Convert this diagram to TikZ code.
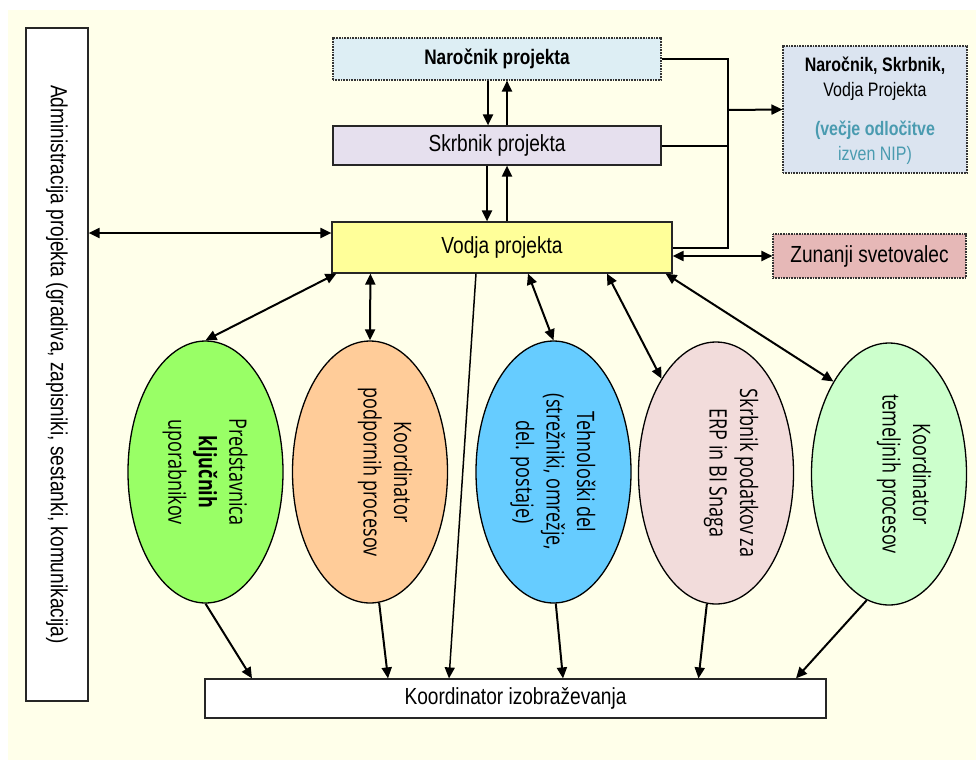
\documentclass[tikz,border=0pt]{standalone}
\usepackage{fontspec}
\setmainfont{Liberation Sans}[FakeStretch=0.82]
\newfontfamily\ovalfont{Open Sans}[FakeStretch=0.75]
\usetikzlibrary{arrows.meta,shapes.geometric,calc}

\definecolor{bgcream}{RGB}{255,255,234}
\definecolor{clientfill}{RGB}{221,238,244}
\definecolor{sponsorfill}{RGB}{230,224,238}
\definecolor{leadfill}{RGB}{255,255,153}
\definecolor{boardfill}{RGB}{219,228,240}
\definecolor{advisorfill}{RGB}{230,184,183}
\definecolor{limegreen}{RGB}{153,255,102}
\definecolor{peach}{RGB}{255,204,153}
\definecolor{skyblue}{RGB}{102,204,255}
\definecolor{rosepale}{RGB}{242,220,219}
\definecolor{mint}{RGB}{204,255,204}
\definecolor{tealtext}{RGB}{74,155,176}

\begin{document}
\begin{tikzpicture}[x=1pt,y=-1pt,
  box/.style={draw=black!85, line width=1.2pt, inner sep=0pt,
    font=\fontsize{23.3}{27}\selectfont},
  dotbox/.style={draw=black!80, dash pattern=on 1pt off 0.6pt, line width=1.1pt,
    inner sep=0pt, font=\fontsize{23.3}{27}\selectfont},
  oval/.style={ellipse, draw=black, line width=1.3pt, minimum width=155pt,
    minimum height=262pt, inner sep=0pt},
  ovaltext/.style={rotate=-90, align=center,
    font=\ovalfont\fontsize{24}{30.5}\selectfont},
  tip/.tip={Triangle[length=11pt,width=10pt]},
  link/.style={line width=2pt, -tip},
  dlink/.style={line width=2pt, tip-tip},
  wire/.style={line width=2pt},
]
% page and backdrop
\fill[white] (0,0) rectangle (976,760);
\fill[bgcream] (8,10) rectangle (976,760);
\useasboundingbox (0,0) rectangle (976,760);

% boxes
\node[dotbox, fill=clientfill, minimum width=328pt, minimum height=42pt,
  font=\bfseries\fontsize{21}{25}\selectfont] (nar) at (497,59) {Naročnik projekta};
\node[box, fill=sponsorfill, minimum width=328pt, minimum height=39pt]
  (skr) at (497,145.5) {Skrbnik projekta};
\node[box, fill=leadfill, minimum width=340pt, minimum height=51pt]
  (vod) at (502,247.5) {Vodja projekta};
\node[dotbox, fill=boardfill, minimum width=184pt, minimum height=127pt]
  (board) at (875,109.5) {};
\node[align=center, font=\fontsize{19.5}{25}\selectfont] (boardtext) at (875,111)
  {\textbf{Naročnik, Skrbnik,}\\Vodja Projekta\\[14pt]
   \textcolor{tealtext}{\textbf{(večje odločitve}}\\\textcolor{tealtext}{izven NIP)}};
\node[dotbox, fill=advisorfill, minimum width=193pt, minimum height=44pt]
  (adv) at (869.5,256) {Zunanji svetovalec};
\node[box, fill=white, minimum width=62pt, minimum height=673pt]
  (adm) at (57,364.5) {};
\node[rotate=-90, font=\fontsize{23.3}{27}\selectfont] (admtext) at (adm)
  {Administracija projekta (gradiva, zapisniki, sestanki, komunikacija)};
\node[box, fill=white, minimum width=621pt, minimum height=39pt]
  (kb) at (515.5,698.5) {Koordinator izobraževanja};

% ovals
\node[oval, fill=limegreen] (e1) at (205.5,472) {};
\node[oval, fill=peach]     (e2) at (370,472) {};
\node[oval, fill=skyblue]   (e3) at (553.5,472) {};
\node[oval, fill=rosepale]  (e4) at (716,473) {};
\node[oval, fill=mint]      (e5) at (889,474) {};
\node[ovaltext] (t1) at (205,472) {Predstavnica\\\textbf{ključnih}\\uporabnikov};
\node[ovaltext] (t2) at (385,472) {Koordinator\\podpornih procesov};
\node[ovaltext] (t3) at (553,472) {Tehnološki del\\(strežniki, omrežje,\\del. postaje)};
\node[ovaltext] (t4) at (731,473) {Skrbnik podatkov za\\ERP in BI Snaga};
\node[ovaltext] (t5) at (904,474) {Koordinator\\temeljnih procesov};

% chain of command
\draw[link] ([xshift=-9pt]nar.south) -- ([xshift=-9pt]skr.north);
\draw[link] ([xshift=10pt]skr.north) -- ([xshift=10pt]nar.south);
\draw[link] ([xshift=-10pt]skr.south) -- ([xshift=-15pt]vod.north);
\draw[link] ([xshift=5pt]vod.north) -- ([xshift=10pt]skr.south);

% escalation rail to the steering group
\coordinate (rail) at (728,110);
\draw[wire] (nar.east) -| (rail |- vod.east) -- (vod.east);
\draw[wire] (skr.east) -- (rail |- skr.east);
\draw[link] (rail) -- (board.west);

% external advisor and administration
\draw[dlink] (vod.east |- adv.west) -- (adv.west);
\coordinate (admlink) at ([yshift=14.5pt]vod.west);
\draw[dlink] (adm.east |- admlink) -- (admlink);

% project lead to the ovals
\draw[dlink] ([xshift=5pt]vod.south west) -- (e1.north);
\draw[dlink] ([xshift=39pt]vod.south west) -- (e2.north);
\draw[dlink] ([xshift=26pt]vod.south) -- (e3.north);
\draw[dlink] ([xshift=105pt]vod.south) -- (e4.120);
\draw[dlink] ([xshift=-7pt]vod.south east) -- (e5.121);

% everyone feeds the training coordinator
\draw[link] (e1.south) -- ([xshift=-263.5pt]kb.north);
\draw[link] (e2.-86) -- ([xshift=-127.5pt]kb.north);
\draw[line width=1.5pt, -tip] ([xshift=-26pt]vod.south) -- ([xshift=-66.5pt]kb.north);
\draw[link] (e3.-89) -- ([xshift=47.5pt]kb.north);
\draw[link] (e4.-94) -- ([xshift=183pt]kb.north);
\draw[link] (e5.-100) -- ([xshift=280.5pt]kb.north);
\end{tikzpicture}
\end{document}
